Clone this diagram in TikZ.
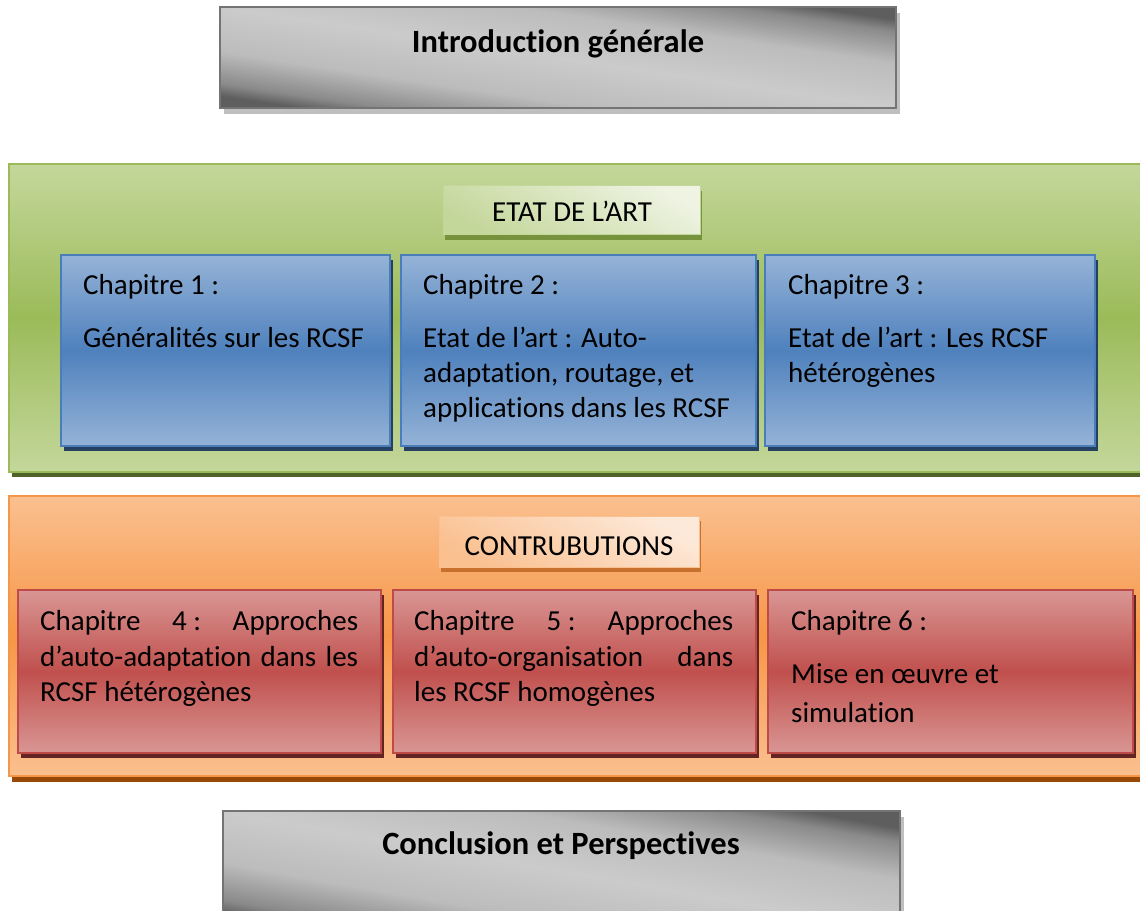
\documentclass[tikz,border=0pt]{standalone}
\usepackage{fontspec}
\setmainfont{Carlito}[Ligatures=NoCommon]
\usetikzlibrary{shadows}

\definecolor{graydark}{HTML}{5E5E5E}
\definecolor{grayfall}{HTML}{8A8A8A}
\definecolor{graymid}{HTML}{BCBCBC}
\definecolor{graylight}{HTML}{CBCBCB}
\definecolor{grayline}{HTML}{747474}
\definecolor{grayshade}{HTML}{BFBFBF}
\definecolor{greenlight}{HTML}{C4D79B}
\definecolor{greenmid}{HTML}{9BBB59}
\definecolor{greenline}{HTML}{9BBB59}
\definecolor{greenshade}{HTML}{4F6228}
\definecolor{greenpale}{HTML}{EEF3E2}
\definecolor{greentagshade}{HTML}{76923C}
\definecolor{bluelight}{HTML}{95B3D7}
\definecolor{bluemid}{HTML}{4F81BD}
\definecolor{blueline}{HTML}{4A7EBB}
\definecolor{blueshade}{HTML}{254061}
\definecolor{orangelight}{HTML}{FAC090}
\definecolor{orangemid}{HTML}{F79646}
\definecolor{orangeshade}{HTML}{984807}
\definecolor{orangepale}{HTML}{FDE9D9}
\definecolor{orangetagshade}{HTML}{C8702E}
\definecolor{redlight}{HTML}{D99694}
\definecolor{redmid}{HTML}{C0504D}
\definecolor{redline}{HTML}{BE4B48}
\definecolor{redshade}{HTML}{632423}

% brushed-metal band (the shaded path spans 25bp..75bp): dark corners, light centre
\pgfdeclareverticalshading{metalband}{100bp}{%
  color(0bp)=(graydark); color(25bp)=(graydark); color(28.5bp)=(grayfall);
  color(37.5bp)=(graymid); color(50bp)=(graylight); color(62.5bp)=(graymid);
  color(71.5bp)=(grayfall); color(75bp)=(graydark); color(100bp)=(graydark)}

\begin{document}
\begin{tikzpicture}[x=1pt,y=-1pt,
  box/.style={rectangle, anchor=north west, inner sep=0pt, outer sep=0pt},
  graybox/.style={box, draw=grayline, line width=2pt,
    shade, shading=metalband, shading angle=#1,
    drop shadow={shadow xshift=4pt, shadow yshift=-6pt, fill=grayshade, opacity=1}},
  greenpanel/.style={box, draw=greenline, line width=2.5pt,
    top color=greenlight, bottom color=greenlight, middle color=greenmid,
    drop shadow={shadow xshift=3pt, shadow yshift=-5pt, fill=greenshade, opacity=1}},
  orangepanel/.style={box, draw=orangemid, line width=2.5pt,
    top color=orangelight, bottom color=orangelight, middle color=orangemid,
    drop shadow={shadow xshift=3pt, shadow yshift=-6pt, fill=orangeshade, opacity=1}},
  greentag/.style={box, draw=greenlight, line width=1pt,
    top color=greenpale, bottom color=greenlight, shading angle=-30,
    drop shadow={shadow xshift=2pt, shadow yshift=-6pt, fill=greentagshade, opacity=1}},
  orangetag/.style={box, draw=orangelight, line width=1pt,
    top color=orangepale, bottom color=orangelight, shading angle=-30,
    drop shadow={shadow xshift=2pt, shadow yshift=-5pt, fill=orangetagshade, opacity=1}},
  bluebox/.style={box, draw=blueline, line width=2pt,
    top color=bluelight, bottom color=bluelight, middle color=bluemid,
    drop shadow={shadow xshift=3pt, shadow yshift=-5pt, fill=blueshade, opacity=1}},
  redbox/.style={box, draw=redline, line width=2pt,
    top color=redlight, bottom color=redlight, middle color=redmid,
    drop shadow={shadow xshift=3pt, shadow yshift=-5pt, fill=redshade, opacity=1}},
  txt/.style={anchor=base west, inner sep=0pt, font=\fontsize{29}{35}\selectfont},
  tagtxt/.style={anchor=base, inner sep=0pt, font=\fontsize{29}{35}\selectfont},
  titletxt/.style={anchor=base, inner sep=0pt, font=\bfseries\fontsize{32.5}{40}\selectfont}
]
\useasboundingbox (0,0) rectangle (1140,910);
\clip (0,0) rectangle (1140,910);

% opening chapter
\node[graybox=-8.5, minimum width=676pt, minimum height=101pt] (intro) at (220,7) {};
\node[titletxt] (introtxt) at (558,52) {Introduction générale};

% state of the art panel
\node[greenpanel, minimum width=1150pt, minimum height=308pt] (etat) at (9,164) {};
\node[greentag, minimum width=257pt, minimum height=49pt] (etattag) at (443,185) {};
\node[tagtxt] (etattxt) at (572,221) {ETAT DE L’ART};

\node[bluebox, minimum width=329pt, minimum height=191pt] (c1) at (61,255) {};
\node[bluebox, minimum width=355pt, minimum height=191pt] (c2) at (401,255) {};
\node[bluebox, minimum width=330pt, minimum height=191pt] (c3) at (765,255) {};

\node[txt] (c1a) at (83,294) {Chapitre 1 :};
\node[txt] (c1b) at (83,347) {Généralités sur les RCSF};

\node[txt] (c2a) at (423,294) {Chapitre 2 :};
\node[txt] (c2b) at (423,347) {Etat de l’art : Auto-};
\node[txt] (c2c) at (423,382) {adaptation, routage, et};
\node[txt] (c2d) at (423,417) {applications dans les RCSF};

\node[txt] (c3a) at (788,294) {Chapitre 3 :};
\node[txt] (c3b) at (788,347) {Etat de l’art : Les RCSF};
\node[txt] (c3c) at (788,382) {hétérogènes};

% contributions panel
\node[orangepanel, minimum width=1150pt, minimum height=280pt] (contrib) at (9,496) {};
\node[orangetag, minimum width=260pt, minimum height=51pt] (contribtag) at (439,516) {};
\node[tagtxt] (contribtxt) at (569,555) {CONTRUBUTIONS};

\node[redbox, minimum width=363pt, minimum height=163pt] (c4) at (18,590) {};
\node[redbox, minimum width=363pt, minimum height=163pt] (c5) at (393,590) {};
\node[redbox, minimum width=365pt, minimum height=163pt] (c6) at (768,590) {};

\node[txt] (c4a) at (40,630) {\makebox[318pt][s]{Chapitre \mbox{4 :} Approches}};
\node[txt] (c4b) at (40,666) {\makebox[318pt][s]{d’auto-adaptation dans les}};
\node[txt] (c4c) at (40,701) {RCSF hétérogènes};

\node[txt] (c5a) at (414,630) {\makebox[319pt][s]{Chapitre \mbox{5 :} Approches}};
\node[txt] (c5b) at (414,666) {\makebox[319pt][s]{d’auto-organisation dans}};
\node[txt] (c5c) at (414,701) {les RCSF homogènes};

\node[txt] (c6a) at (791,630) {Chapitre 6 :};
\node[txt] (c6b) at (791,683) {Mise en œuvre et};
\node[txt] (c6c) at (791,722) {simulation};

% closing chapter
\node[graybox=-10, minimum width=677pt, minimum height=120pt] (concl) at (223,811) {};
\node[titletxt] (concltxt) at (561,854) {Conclusion et Perspectives};
\end{tikzpicture}
\end{document}
